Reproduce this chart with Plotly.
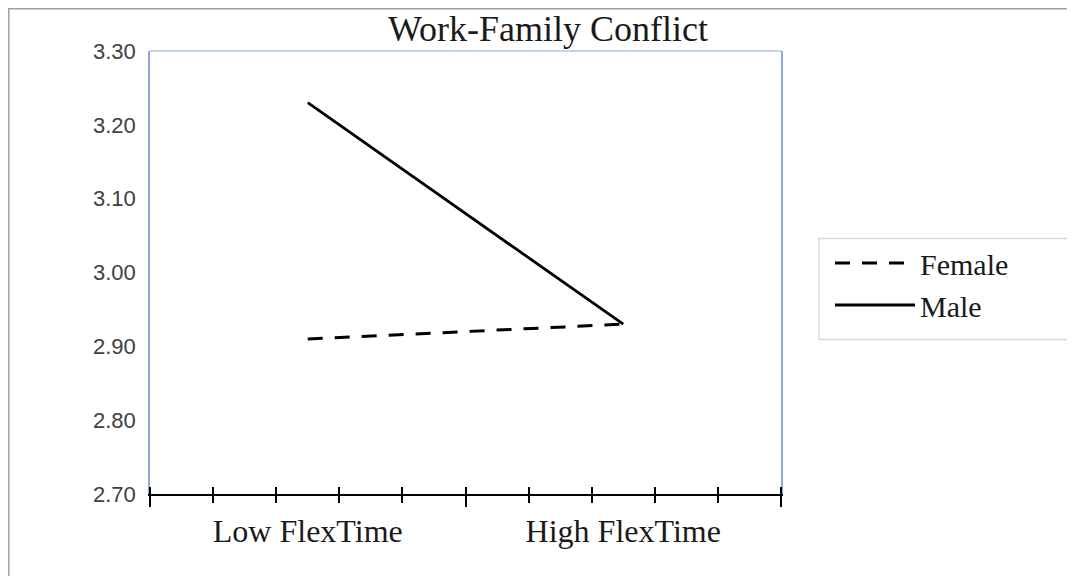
import plotly.graph_objects as go

categories = ["Low FlexTime", "High FlexTime"]
female = [2.91, 2.93]
male = [3.23, 2.93]
y_ticks = [2.70, 2.80, 2.90, 3.00, 3.10, 3.20, 3.30]
title_text = "Work-Family Conflict"

n = len(categories)
x_pos = [i + 0.5 for i in range(n)]
minor_vals = [round(i * 0.2, 2) for i in range(int(n / 0.2) + 1)]
major_vals = list(range(n + 1))

serif = "Liberation Serif, Times New Roman, serif"
sans = "Liberation Sans, Arial, sans-serif"

# page body has an 8px margin; figure sized so the plot lands where the reference has it
W, H = 1067, 568
PL, PT, PW, PH = 150, 51, 631, 443  # plot area in page pixels


def px_x(px):
    return (px - PL) / PW


def px_y(py):
    return (PT + PH - py) / PH


fig = go.Figure()
fig.add_trace(go.Scatter(x=x_pos, y=female, mode="lines", name="Female",
                         line=dict(color="black", width=3, dash="15px,12px")))
fig.add_trace(go.Scatter(x=x_pos, y=male, mode="lines", name="Male",
                         line=dict(color="black", width=2.8)))
# overlay axis for inside ticks + category labels
fig.add_trace(go.Scatter(x=x_pos, y=male, mode="lines", xaxis="x2", showlegend=False,
                         line=dict(width=0), hoverinfo="skip", opacity=0))

fig.update_layout(
    width=W, height=H,
    margin=dict(l=PL - 8, r=W - (PL + PW - 8), t=PT - 8, b=H - (PT + PH - 8)),
    paper_bgcolor="white", plot_bgcolor="white",
    title=dict(text=title_text, x=540 / W, xref="container", xanchor="center",
               y=(H - 20) / H, yref="container", yanchor="middle",
               font=dict(family=serif, size=36, color="#1a1a1a")),
    xaxis=dict(range=[0, n], showgrid=False, zeroline=False,
               showline=True, linecolor="black", linewidth=2,
               tickvals=major_vals, ticks="outside", ticklen=11, tickwidth=1.5, tickcolor="black",
               showticklabels=False,
               minor=dict(tickvals=minor_vals, ticks="outside", ticklen=7, tickwidth=1.5,
                          tickcolor="black", showgrid=False)),
    xaxis2=dict(range=[0, n], overlaying="x", matches="x", anchor="y", side="bottom",
                showgrid=False, zeroline=False, showline=False,
                tickvals=x_pos, ticktext=categories, ticks="",
                ticklabelstandoff=15,
                tickfont=dict(family=serif, size=32, color="#1a1a1a"),
                minor=dict(tickvals=minor_vals, ticks="inside", ticklen=7, tickwidth=1.5,
                           tickcolor="black", showgrid=False)),
    yaxis=dict(range=[y_ticks[0], y_ticks[-1]], tickvals=y_ticks, tickformat=".2f",
               showgrid=False, zeroline=False, showline=True, linecolor="#8eaadb",
               linewidth=1.5, mirror=True, ticks="",
               ticklabelstandoff=8,
               tickfont=dict(family=sans, size=22, color="#404040")),
    legend=dict(x=px_x(830), y=px_y(237), xanchor="left", yanchor="top",
                borderwidth=0, bgcolor="rgba(0,0,0,0)",
                font=dict(family=serif, size=30, color="#1a1a1a"),
                itemwidth=80, tracegroupgap=0),
    shapes=[
        dict(type="line", xref="paper", yref="paper", x0=0, x1=1, y0=1, y1=1,
             line=dict(color="#c5d5ea", width=2)),
        dict(type="rect", xref="paper", yref="paper",
             x0=px_x(819), x1=px_x(1071), y0=px_y(339.5), y1=px_y(238.5),
             line=dict(color="#d9d9d9", width=1.5), fillcolor="white", layer="below"),
        dict(type="rect", xref="paper", yref="paper",
             x0=px_x(8.8), x1=px_x(1090), y0=px_y(590), y1=px_y(8.8),
             line=dict(color="#a0a0a0", width=1.5), layer="below"),
    ],
)

fig.write_html("out.html")
